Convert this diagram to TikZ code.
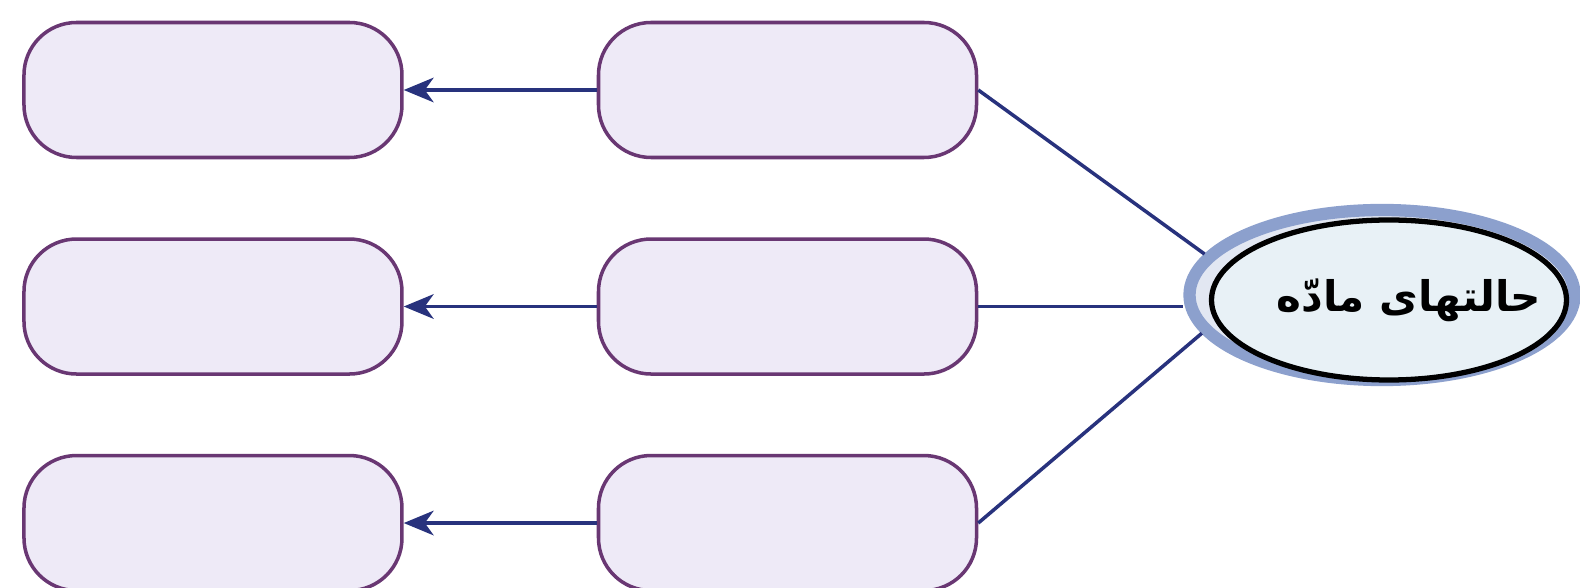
\documentclass[tikz,border=0pt]{standalone}
\usepackage{fontspec}
\newfontfamily\arabicfont[Script=Arabic]{DejaVu Sans}
\TeXXeTstate=1
\usetikzlibrary{arrows.meta, positioning, shapes.geometric}
\definecolor{boxfill}{RGB}{238,234,247}
\definecolor{boxdraw}{RGB}{105,55,115}
\definecolor{linkcol}{RGB}{40,50,125}
\definecolor{statefill}{RGB}{232,241,246}
\definecolor{halocol}{RGB}{140,160,205}

\begin{document}
\begin{tikzpicture}[
                node distance=1.56cm and 3.86cm,
                casebox/.style={draw=boxdraw, fill=boxfill, line width=2pt, rounded corners=1.05cm, minimum width=7.56cm, minimum height=2.7cm},
                halo/.style={ellipse, draw=halocol, line width=7pt, fill=halocol!25, minimum width=7.7cm, minimum height=3.4cm},
                statenode/.style={ellipse, draw=black, line width=3pt, fill=statefill, minimum width=7.1cm, minimum height=3.2cm},
                statetext/.style={inner sep=0pt, font=\arabicfont\bfseries\fontsize{24}{28}\selectfont},
                link/.style={draw=linkcol, line width=2pt},
                fleche/.style={link, -{Stealth[length=17pt, width=14pt, inset=5pt]}}
            ]
            \useasboundingbox (0,0) rectangle (31.6,-11.76);

            % Colonne du milieu
            \node[casebox] (m1) at (15.75,-1.8) {};
            \node[casebox, below=of m1] (m2) {};
            \node[casebox, below=of m2] (m3) {};

            % Colonne de gauche
            \node[casebox, left=of m1] (g1) {};
            \node[casebox, left=of m2] (g2) {};
            \node[casebox, left=of m3] (g3) {};

            % Noeud central
            \node[halo] (anneau) at (27.64,-5.9) {};
            \node[statenode] (etat) at (27.78,-6.0) {};
            \node[statetext] (titre) at ([xshift=0.4cm]etat.center) {\beginR حالتهای مادّه\endR};

            % Liens vers le noeud central
            \draw[link] (m1.east) -- (anneau.167);
            \draw[link] (m2.east) -- (m2.east -| anneau.west);
            \draw[link] (m3.east) -- (anneau.192);

            % Fleches vers la gauche
            \draw[fleche] (m1.west) -- (g1.east);
            \draw[fleche] (m2.west) -- (g2.east);
            \draw[fleche] (m3.west) -- (g3.east);

        \end{tikzpicture}
\end{document}
